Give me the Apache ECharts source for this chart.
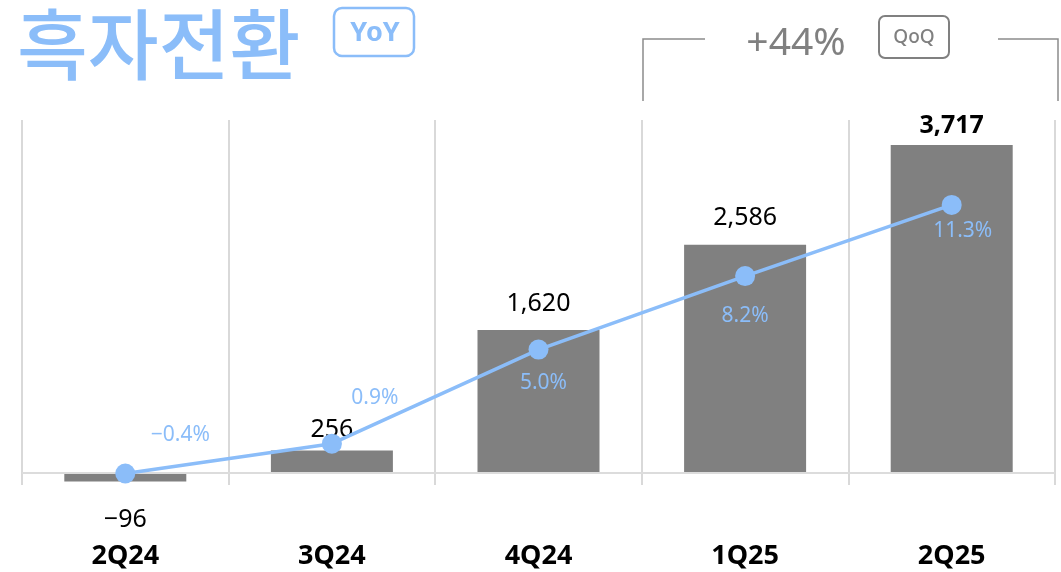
<!DOCTYPE html>
<html>
<head>
<meta charset="utf-8">
<script src="https://cdn.jsdelivr.net/npm/echarts@6/dist/echarts.min.js"></script>
<style>
  html, body { margin: 0; padding: 0; background: #fff; }
  #chart { width: 1061px; height: 572px; }
</style>
</head>
<body>
<div id="chart"></div>
<script>
// quarterly data
const quarters = ['2Q24', '3Q24', '4Q24', '1Q25', '2Q25'];
const profit = [-96, 256, 1620, 2586, 3717];
const margin = [-0.4, 0.9, 5.0, 8.2, 11.3];
// label offsets for the margin line, one per point
const marginLabelOffsets = [[55, -39], [43, -46], [5, 33], [0, 40], [11, 26]];
// gap between each bar and its value label
const profitLabelGap = [26, 8, 14, 14, 7];

const BLUE = '#8bbdf9';
const GRAY = '#808080';
const FONT = '"Noto Sans", "Noto Sans CJK KR", sans-serif';

const chart = echarts.init(document.getElementById('chart'));

const fmtNum = v => (v < 0 ? '\u2212' : '') + Math.abs(v).toLocaleString('en-US');

const option = {
  animation: false,
  textStyle: { fontFamily: FONT },
  grid: { left: 22, right: 6, top: 120, bottom: 87 },
  xAxis: {
    type: 'category',
    data: quarters,
    boundaryGap: true,
    axisLine: { show: false },
    axisTick: { show: false },
    splitLine: { show: true, lineStyle: { color: '#d9d9d9', width: 2 } },
    axisLabel: {
      margin: 58,
      fontSize: 27,
      fontWeight: 'bold',
      color: '#000',
      fontFamily: FONT
    }
  },
  yAxis: [
    { type: 'value', min: -136, max: 4000, show: false, splitLine: { show: false } },
    { type: 'value', min: -0.9, max: 15, show: false, splitLine: { show: false } }
  ],
  series: [
    {
      type: 'bar',
      yAxisIndex: 0,
      barWidth: 122,
      itemStyle: { color: GRAY },
      data: profit.map((v, i) => ({
        value: v,
        label: {
          show: true,
          position: v < 0 ? 'bottom' : 'top',
          distance: profitLabelGap[i],
          fontWeight: i === profit.length - 1 ? 'bold' : 'normal',
          fontSize: 25,
          color: '#000',
          fontFamily: FONT,
          formatter: p => fmtNum(p.value)
        }
      })),
      markLine: {
        silent: true,
        symbol: 'none',
        label: { show: false },
        lineStyle: { color: '#dcdcdc', width: 2, type: 'solid' },
        data: [{ yAxis: 0 }]
      }
    },
    {
      type: 'line',
      yAxisIndex: 1,
      symbol: 'circle',
      symbolSize: 20,
      lineStyle: { color: BLUE, width: 3.5 },
      itemStyle: { color: BLUE },
      z: 5,
      data: margin.map((v, i) => ({
        value: v,
        label: {
          show: true,
          position: 'inside',
          offset: marginLabelOffsets[i],
          fontSize: 21,
          color: BLUE,
          fontFamily: FONT,
          formatter: p => (p.value < 0 ? '\u2212' : '') + Math.abs(p.value).toFixed(1) + '%'
        }
      }))
    }
  ],
  graphic: [
    {
      type: 'text', left: 17, top: 6,
      style: { text: '흑자전환', fontSize: 77, fontWeight: 500, fill: BLUE, fontFamily: '"Noto Sans CJK KR", sans-serif' }
    },
    {
      type: 'rect', shape: { x: 334, y: 8, width: 80, height: 48, r: 8 },
      style: { fill: 'none', stroke: BLUE, lineWidth: 2.5 }
    },
    {
      type: 'text', x: 375, y: 33,
      style: { text: 'YoY', fontSize: 27, fontWeight: 'bold', fill: BLUE, align: 'center', verticalAlign: 'middle', fontFamily: FONT }
    },
    {
      type: 'polyline', shape: { points: [[643, 101], [643, 39], [705, 39]] },
      style: { stroke: '#8c8c8c', lineWidth: 1.5, fill: 'none' }
    },
    {
      type: 'polyline', shape: { points: [[998, 39], [1058, 39], [1058, 101]] },
      style: { stroke: '#8c8c8c', lineWidth: 1.5, fill: 'none' }
    },
    {
      type: 'text', x: 796, y: 44,
      style: { text: '+44%', fontSize: 39, fill: GRAY, align: 'center', verticalAlign: 'middle', fontFamily: FONT }
    },
    {
      type: 'rect', shape: { x: 879, y: 16, width: 70, height: 42, r: 6 },
      style: { fill: 'none', stroke: GRAY, lineWidth: 2 }
    },
    {
      type: 'text', x: 914, y: 38,
      style: { text: 'QoQ', fontSize: 19, fontWeight: 500, fill: GRAY, align: 'center', verticalAlign: 'middle', fontFamily: FONT }
    }
  ]
};

chart.setOption(option);
</script>
</body>
</html>
